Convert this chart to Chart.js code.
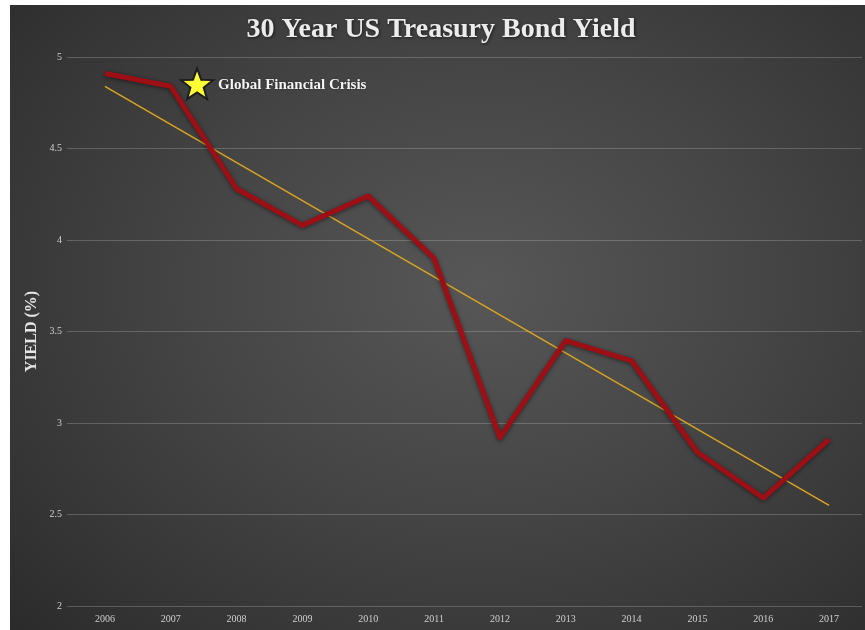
<!DOCTYPE html>
<html>
<head>
<meta charset="utf-8">
<script src="https://cdn.jsdelivr.net/npm/chart.js@4"></script>
<style>
  html, body { margin: 0; padding: 0; background: #ffffff; }
  #wrap {
    position: absolute; left: 10px; top: 5px; width: 855px; height: 625px;
    background: radial-gradient(ellipse 75% 80% at 55% 45%, #575757 0%, #454545 45%, #353535 80%, #2b2b2b 100%);
  }
  canvas { display: block; }
</style>
</head>
<body>
<div id="wrap"><canvas id="c" width="855" height="625"></canvas></div>
<script>
const titleText = '30 Year US Treasury Bond Yield';
const yAxisLabel = 'YIELD (%)';
const years = ['2006','2007','2008','2009','2010','2011','2012','2013','2014','2015','2016','2017'];
const yields = [4.91, 4.84, 4.28, 4.08, 4.24, 3.90, 2.92, 3.45, 3.34, 2.84, 2.59, 2.91];
const trendEnds = [4.84, null, null, null, null, null, null, null, null, null, null, 2.55];
const yTickLabels = { 2: '2', 2.5: '2.5', 3: '3', 3.5: '3.5', 4: '4', 4.5: '4.5', 5: '5' };
const annotationText = 'Global Financial Crisis';
const annotationAt = { index: 1.4, value: 4.845 };

const titlePlugin = {
  id: 'customTitle',
  afterDraw(chart) {
    const ctx = chart.ctx;
    ctx.save();
    ctx.font = 'bold 28px "Liberation Serif"';
    ctx.textAlign = 'center';
    ctx.textBaseline = 'middle';
    ctx.shadowColor = 'rgba(0,0,0,0.6)';
    ctx.shadowBlur = 3;
    ctx.shadowOffsetX = 1;
    ctx.shadowOffsetY = 1;
    ctx.fillStyle = '#ececec';
    ctx.fillText(titleText, 431, 25);
    ctx.restore();
  }
};

const glowPlugin = {
  id: 'glow',
  beforeDatasetDraw(chart, args) {
    if (args.index === 0) {
      chart.ctx.save();
      chart.ctx.shadowColor = 'rgba(0,0,0,0.5)';
      chart.ctx.shadowBlur = 4;
      chart.ctx.shadowOffsetY = 1;
    }
  },
  afterDatasetDraw(chart, args) {
    if (args.index === 0) chart.ctx.restore();
  }
};

const starPlugin = {
  id: 'star',
  afterDatasetsDraw(chart) {
    const xs = chart.scales.x, ys = chart.scales.y;
    const x0 = xs.getPixelForValue(0), x1 = xs.getPixelForValue(1);
    const cx = x0 + (x1 - x0) * annotationAt.index;
    const cy = ys.getPixelForValue(annotationAt.value);
    const ctx = chart.ctx;
    ctx.save();
    const R = 17, r = 7;
    ctx.beginPath();
    for (let i = 0; i < 10; i++) {
      const a = -Math.PI / 2 + i * Math.PI / 5;
      const rad = i % 2 === 0 ? R : r;
      const px = cx + rad * Math.cos(a), py = cy + rad * Math.sin(a);
      if (i === 0) ctx.moveTo(px, py); else ctx.lineTo(px, py);
    }
    ctx.closePath();
    ctx.fillStyle = '#ffff33';
    ctx.fill();
    ctx.lineWidth = 2;
    ctx.strokeStyle = '#1e1e1e';
    ctx.stroke();
    ctx.font = 'bold 15px "Liberation Serif"';
    ctx.textAlign = 'left';
    ctx.textBaseline = 'middle';
    ctx.fillStyle = '#f4f4f4';
    ctx.shadowColor = 'rgba(0,0,0,0.5)';
    ctx.shadowBlur = 2;
    ctx.fillText(annotationText, cx + 21, cy);
    ctx.restore();
  }
};

new Chart(document.getElementById('c'), {
  type: 'line',
  data: {
    labels: years,
    datasets: [
      {
        data: yields,
        borderColor: '#9e0f15',
        borderWidth: 5,
        pointRadius: 0,
        tension: 0,
        borderJoinStyle: 'round',
        fill: false
      },
      {
        data: trendEnds,
        borderColor: '#d9a520',
        borderWidth: 1.5,
        pointRadius: 0,
        spanGaps: true,
        tension: 0,
        fill: false
      }
    ]
  },
  options: {
    responsive: false,
    animation: false,
    layout: { padding: { top: 52, right: 3, bottom: 0, left: 0 } },
    plugins: {
      legend: { display: false },
      title: { display: false },
      tooltip: { enabled: false }
    },
    scales: {
      x: {
        offset: true,
        grid: { display: false, drawTicks: false },
        border: { display: false },
        ticks: {
          color: '#cfcfcf',
          padding: 7,
          maxRotation: 0,
          font: { family: 'Liberation Serif', size: 10 }
        },
        afterFit(s) { s.height = 24; }
      },
      y: {
        min: 2,
        max: 5,
        grid: { color: 'rgba(255,255,255,0.2)', lineWidth: 1, tickLength: 5, drawTicks: true },
        border: { display: false },
        ticks: {
          stepSize: 0.5,
          color: '#cfcfcf',
          padding: 5,
          font: { family: 'Liberation Serif', size: 10 },
          callback: (v) => yTickLabels[v] !== undefined ? yTickLabels[v] : ''
        },
        title: {
          display: true,
          text: yAxisLabel,
          color: '#e6e6e6',
          padding: { top: 12, bottom: 0 },
          font: { family: 'Liberation Serif', size: 16, weight: 'bold' }
        },
        afterFit(s) { s.width = 62; }
      }
    }
  },
  plugins: [titlePlugin, glowPlugin, starPlugin]
});
</script>
</body>
</html>
